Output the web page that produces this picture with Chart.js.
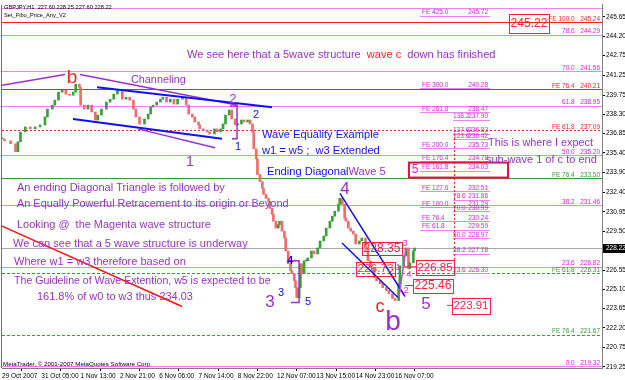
<!DOCTYPE html>
<html><head><meta charset="utf-8">
<script src="https://cdn.jsdelivr.net/npm/chart.js@4"></script>
<style>html,body{margin:0;padding:0;background:#fff;overflow:hidden}</style>
</head><body>
<canvas id="c" width="625" height="380"></canvas>
<script>
// ---------------- DATA ----------------
// hourly bar index (from 29 Oct 2007 00:00) and closing price
const barTimes = [0,2,7,11,13,15,19,23,27,31,35,37,41,43,46,49,52,55,58,60,63,64,67,70,73,76,78,81,85,88,91,94,98,101,104,107,109,112,116,119,121,123,126,129,131,134,137,140,143,147,150,152,155,157,160,161,164,167,169,173,175,178,180,182,185,187,190,192,195,197,200,202,204,205,207,208,210,212,213,215,217,218,220,221,223,225,226,228,230,231,233,235,236,238,239,240,242,243,244,246,248,249,252,254,257,259,262,264,267,269,271,274,275,277,279,280,282,284,286,288,291,293,296,298,300,303,305,308,310,313,315,318,320,323,324,327,329,331,332,335,336];
const closes = [236.45,236.30,236.08,235.48,236.23,236.97,237.35,237.20,237.35,237.50,
238.10,238.69,238.99,239.37,239.97,240.11,239.82,239.74,239.97,240.56,
240.34,238.99,238.69,238.99,238.47,237.87,238.24,238.69,239.22,239.44,
239.82,240.11,239.44,239.59,239.37,238.69,238.10,237.57,237.95,238.32,
238.84,238.99,239.22,239.44,239.59,239.22,239.44,239.07,239.44,239.59,
238.99,238.32,238.10,237.72,237.50,237.20,237.12,236.97,236.82,237.20,
236.97,237.20,237.57,238.24,238.62,237.95,237.50,237.57,237.87,237.72,
237.87,237.57,236.97,235.70,234.95,233.76,233.23,232.71,232.26,231.96,
231.74,231.21,230.76,230.24,229.72,229.99,230.24,229.49,228.97,228.00,
227.02,226.50,226.28,225.75,225.23,224.48,225.23,227.02,226.28,227.25,
227.25,227.47,228.00,227.77,228.22,228.75,229.12,229.72,230.24,230.62,
230.99,231.51,231.96,231.51,230.47,230.24,229.72,229.49,229.27,228.52,
228.75,228.97,228.22,227.25,226.73,225.98,225.75,225.53,225.23,225.01,
224.78,224.41,224.26,225.53,226.88,227.62,228.22,226.65,227.10,228.00,
228.22];

const xTickBars = [0,32,64,96,128,160,192,224,256,288,320];
const xTickLabels = ['29 Oct 2007','31 Oct 05:00','1 Nov 13:00','2 Nov 21:00','6 Nov 06:00','7 Nov 14:00','8 Nov 22:00','12 Nov 07:00','13 Nov 15:00','14 Nov 23:00','16 Nov 07:00'];
const yTicks = [245.65,244.20,242.75,241.25,239.75,238.30,236.85,235.40,233.90,232.40,230.95,229.50,226.55,225.10,223.65,222.20,220.75,219.25];
const lastPrice = 228.22;

// Fibonacci retracement levels (full width)
const retraceNames  = ['', '78.6','70.0','61.8','50.0','38.2','23.6','0.0'];
const retraceValues = [246.32,244.29,241.56,238.95,235.20,231.46,226.82,219.32];
// Fibo expansion levels (full width)
const feRedNames   = ['FE 100.0','FE 76.4','FE 61.8'];
const feRedValues  = [245.24,240.21,237.09];
const feGreenNames = ['FE 76.4','FE 61.8','FE 76.4'];
const feGreenValues= [233.50,226.31,221.67];
// short expansion labels
const feSubNames  = ['FE 425.0','FE 300.0','FE 261.8','FE 200.0','FE 176.4','FE 161.8','FE 127.6','FE 100.0','FE 76.4','FE 61.8'];
const feSubValues = [245.72,240.28,238.47,235.73,234.78,234.03,232.51,231.29,230.24,229.59];
// short retracement labels
const fibSubNames  = ['138.2','127.6','123.6','78.6','70.0','50.0','38.2','23.6'];
const fibSubValues = [237.90,236.83,236.42,231.86,230.99,228.97,227.78,226.30];
// price boxes
const boxValues = [245.22,228.35,226.73,226.85,225.46,223.91];

// ---------------- STYLE ----------------
const FONT = "'Liberation Sans', Arial, sans-serif";
const COL = {purple:'#9932cc', violet:'#ee82ee', magText:'#e020e0', red:'#ff2020', green:'#3a9a3a',
             blue:'#1010ff', gray:'#a8a8a8', up:'#3aa03a', down:'#f46a6a', boxRed:'#ff2040'};

const candles = barTimes.map((t,i)=>({x:t, y:[i?closes[i-1]:closes[i], closes[i]]}));
const candleColors = closes.map((c,i)=> (i && c < closes[i-1]) ? COL.down : COL.up);

// annotation anchors (bar index, price)
const trendLines = [
  {pts:[[0,240.49],[51.3,241.31]], c:COL.purple, w:1.5},
  {pts:[[63.5,241.31],[192.2,238.99]], c:COL.purple, w:1.5},
  {pts:[[77.4,240.34],[219.9,238.84]], c:COL.blue, w:2},
  {pts:[[57.8,237.95],[179.2,236.45]], c:COL.blue, w:2},
  {pts:[[110.7,237.20],[173.5,235.78]], c:COL.purple, w:1.5},
  {pts:[[185.7,238.92],[191.4,238.92],[191.4,236.45],[187.3,236.45]], c:COL.purple, w:1.5},
  {pts:[[0,229.87],[146.6,223.81]], c:'#ff1010', w:1.5},
  {pts:[[233.7,227.25],[241.9,227.25],[241.9,224.11],[235.3,224.11]], c:COL.purple, w:1.5},
  {pts:[[275.2,232.34],[328.2,224.56]], c:COL.blue, w:1.5},
  {pts:[[276.9,228.60],[322.5,224.48]], c:COL.blue, w:1.5},
  {pts:[[323.3,224.56],[329.0,228.22]], c:'#cc44ee', w:1.5},
  {pts:[[362.4,223.89],[366.4,223.89]], c:COL.boxRed, w:1},
  {pts:[[327.4,226.80],[337.1,226.80]], c:COL.boxRed, w:1},
  {pts:[[328.2,225.39],[334.7,225.39]], c:COL.boxRed, w:1}
];
const waveLabels = [
  ['b',57.0,241.09,19,COL.red],['2',188.1,239.44,13,COL.purple],['2',206.8,238.25,11,COL.blue],
  ['1',192.2,235.85,11,COL.blue],['1',153.1,234.66,14,COL.purple],['4',279.3,232.64,17,COL.purple],
  ['4',234.5,227.25,11,COL.blue,'bold'],['3',227.2,224.86,11,COL.blue],['3',218.2,224.11,17,COL.purple],
  ['5',249.2,224.18,11,COL.blue],['c',307.8,223.74,18,COL.red],['b',318.4,222.61,28,COL.purple],
  ['5',345.3,223.96,17,COL.purple],['3',328.2,228.52,9,COL.magText],['1',322.5,226.73,9,COL.magText],
  ['4',331.4,226.21,9,COL.magText],['2',329.0,225.01,9,COL.magText],['5',336.3,234.13,12,COL.magText]
];
const notes = [
  ['Channeling',105,240.86,55,COL.purple],
  ['Wave Equality Example',211.7,236.75,117,COL.blue],
  ['w1 = w5 ;  w3 Extended',211.7,235.55,118,COL.blue],
  ['This is where I expect',395.8,236.15,105,COL.purple],
  ['sub-wave 1 of c to end',394.1,234.88,111,COL.purple],
  ['An ending Diagonal Triangle is followed by',12.2,232.71,208,COL.purple],
  ['An Equally Powerful Retracement to its origin or Beyond',12.2,231.51,272,COL.purple],
  ['Looking @  the Magenta wave structure',12.2,229.94,194,COL.purple],
  ['We can see that a 5 wave structure is underway',9.0,228.52,235,COL.purple],
  ['Where w1 = w3 therefore based on',9.8,227.18,172,COL.purple],
  ['The Guideline of Wave Extention, w5 is expected to be',9.8,225.76,257,COL.purple],
  ['161.8% of w0 to w3 thus 234.03',28.5,224.56,156,COL.purple]
];
// box rectangles: [bar1, price1, bar2, price2]
const boxRects = [[412.9,245.87,445.4,244.45],[293.2,228.67,325.7,227.70],[288.3,227.18,320.0,226.13],
                  [337.1,227.33,368.1,226.21],[334.7,225.91,367.3,224.86],[366.4,224.48,397.4,223.29]];

function fitText(ctx, str, x, y, w, color, align, weight){
  weight = weight || 'normal';
  ctx.font = weight + ' 20px ' + FONT;
  const m = ctx.measureText(str).width;
  const size = 20 * w / m;
  ctx.font = weight + ' ' + size + 'px ' + FONT;
  ctx.fillStyle = color; ctx.textAlign = align || 'left'; ctx.textBaseline = 'middle';
  ctx.fillText(str, x, y);
  return size;
}

const overlay = {
  id:'overlay',
  beforeDatasetsDraw(chart){
    const {ctx, chartArea:a, scales:{x,y}} = chart;
    ctx.save();
    const hl = (p,color,dash)=>{ const py=Math.round(y.getPixelForValue(p))+0.5;
      ctx.beginPath(); ctx.setLineDash(dash||[]); ctx.strokeStyle=color; ctx.lineWidth=1;
      ctx.moveTo(a.left,py); ctx.lineTo(a.right,py); ctx.stroke(); };
    retraceValues.forEach(v=>hl(v,COL.violet));
    feRedValues.forEach((v,i)=>hl(v,COL.red,i===2?[2,2]:[]));
    feGreenValues.forEach((v,i)=>hl(v,COL.green,i===0?[]:[3,2]));
    hl(lastPrice,COL.gray);
    // short label underlines
    feSubValues.forEach(v=>{ const py=Math.round(y.getPixelForValue(v))+0.5; ctx.setLineDash([]);
      ctx.strokeStyle=COL.violet; ctx.beginPath(); ctx.moveTo(x.getPixelForValue(340.4),py); ctx.lineTo(x.getPixelForValue(397.4),py); ctx.stroke(); });
    fibSubValues.forEach(v=>{ const py=Math.round(y.getPixelForValue(v))+0.5;
      ctx.strokeStyle=COL.violet; ctx.beginPath(); ctx.moveTo(x.getPixelForValue(367.3),py); ctx.lineTo(x.getPixelForValue(397.4),py); ctx.stroke(); });
    // vertical dotted anchor
    ctx.setLineDash([2,2]); ctx.strokeStyle=COL.red; ctx.beginPath();
    const vx=Math.round(x.getPixelForValue(368.1))+0.5;
    ctx.moveTo(vx,y.getPixelForValue(237.12)); ctx.lineTo(vx,y.getPixelForValue(227.10)); ctx.stroke();
    ctx.restore();
  },
  afterDatasetsDraw(chart){
    const {ctx, chartArea:a, scales:{x,y}} = chart;
    const X=b=>x.getPixelForValue(b), Y=p=>y.getPixelForValue(p);
    ctx.save();
    // frame left
    ctx.strokeStyle='#707070'; ctx.lineWidth=1; ctx.beginPath(); ctx.moveTo(a.left-0.5,a.top); ctx.lineTo(a.left-0.5,a.bottom); ctx.stroke();
    // trend lines
    trendLines.forEach(t=>{ ctx.beginPath(); ctx.strokeStyle=t.c; ctx.lineWidth=t.w; ctx.setLineDash([]);
      t.pts.forEach((q,i)=>{ const px=X(q[0]), py=Y(q[1]); i?ctx.lineTo(px,py):ctx.moveTo(px,py); }); ctx.stroke(); });
    // right column labels
    ctx.font='6.5px '+FONT; ctx.textAlign='right'; ctx.textBaseline='bottom';
    const rx = X(487.0);
    retraceValues.forEach((v,i)=>{ if(!retraceNames[i]) return; ctx.fillStyle=COL.magText; ctx.fillText(retraceNames[i]+'   '+v.toFixed(2), rx, Y(v)); });
    feRedValues.forEach((v,i)=>{ ctx.fillStyle=COL.red; ctx.fillText(feRedNames[i]+'   '+v.toFixed(2), rx, Y(v)); });
    feGreenValues.forEach((v,i)=>{ ctx.fillStyle=COL.green; ctx.fillText(feGreenNames[i]+'   '+v.toFixed(2), rx, Y(v)); });
    // short labels
    ctx.fillStyle=COL.magText;
    feSubValues.forEach((v,i)=>{ ctx.textAlign='left'; ctx.fillText(feSubNames[i], X(342.0), Y(v)); ctx.textAlign='right'; ctx.fillText(v.toFixed(2), X(395.8), Y(v)); });
    fibSubValues.forEach((v,i)=>{ ctx.textAlign='left'; ctx.fillText(fibSubNames[i], X(367.3), Y(v)); ctx.textAlign='right'; ctx.fillText(v.toFixed(2), X(395.8), Y(v)); });
    // FE 161.8 box
    ctx.strokeStyle='#e8103a'; ctx.lineWidth=2;
    ctx.strokeRect(X(331.4), Y(234.66), X(412.1)-X(331.4), Y(233.53)-Y(234.66));
    // price boxes
    boxValues.forEach((v,i)=>{ const r=boxRects[i]; const x1=X(r[0]), y1=Y(r[1]), x2=X(r[2]), y2=Y(r[3]);
      ctx.strokeStyle=COL.boxRed; ctx.lineWidth=1; ctx.strokeRect(Math.round(x1)+0.5,Math.round(y1)+0.5,Math.round(x2-x1),Math.round(y2-y1));
      fitText(ctx, v.toFixed(2), (x1+x2)/2, (y1+y2)/2+0.5, (x2-x1)-3, COL.boxRed, 'center'); });
    // wave labels
    waveLabels.forEach(w=>{ ctx.font=(w[5]||'normal')+' '+w[3]+'px '+FONT; ctx.fillStyle=w[4]; ctx.textAlign='center'; ctx.textBaseline='middle'; ctx.fillText(w[0], X(w[1]), Y(w[2])); });
    // notes
    notes.forEach(n=>fitText(ctx, n[0], X(n[1]), Y(n[2]), n[3], n[4]));
    // headline (mixed colours)
    {
      const parts=[['We see here that a 5wave structure  ',COL.purple],['wave c',COL.red],['  down has finished',COL.purple]];
      const full=parts.map(p=>p[0]).join('');
      const size=fitText(ctx, '', 0, 0, 1, '#fff');
      ctx.font='20px '+FONT; const m=ctx.measureText(full).width; const s=20*309/m;
      ctx.font=s+'px '+FONT; ctx.textAlign='left'; ctx.textBaseline='middle';
      let cx=X(150.7); const cy=Y(242.81);
      parts.forEach(p=>{ ctx.fillStyle=p[1]; ctx.fillText(p[0],cx,cy); cx+=ctx.measureText(p[0]).width; });
    }
    {
      const parts=[['Ending Diagonal',COL.blue],['Wave 5',COL.purple]];
      ctx.font='20px '+FONT; const m=ctx.measureText('Ending DiagonalWave 5').width; const s=20*119/m;
      ctx.font=s+'px '+FONT; ctx.textAlign='left'; ctx.textBaseline='middle';
      let cx=X(215.8); const cy=Y(233.98);
      parts.forEach(p=>{ ctx.fillStyle=p[1]; ctx.fillText(p[0],cx,cy); cx+=ctx.measureText(p[0]).width; });
    }
    // chart header / footer texts
    fitText(ctx, 'GBPJPY,H1  227.60 228.25 227.60 228.22', a.left+2, a.top+3, 108, '#000');
    fitText(ctx, 'Set_Fibo_Price_Any_V2', a.left+2, a.top+11, 62, '#000');
    fitText(ctx, 'MetaTrader, \u00a9 2001-2007 MetaQuotes Software Corp.', a.left+1, a.bottom-4, 149, '#000');
    ctx.restore();
  },
  afterDraw(chart){
    const {ctx, chartArea:a, scales:{y}} = chart;
    ctx.save();
    const py=Y0=y.getPixelForValue(lastPrice);
    ctx.fillStyle='#000'; ctx.fillRect(a.right+1, Math.round(py)-4, 23, 9);
    ctx.fillStyle='#fff'; ctx.font='6.5px '+FONT; ctx.textAlign='left'; ctx.textBaseline='middle';
    ctx.fillText(lastPrice.toFixed(2), a.right+4, Math.round(py)+0.5);
    ctx.restore();
  }
};

Chart.defaults.font.family = FONT;
new Chart(document.getElementById('c'), {
  type:'bar',
  data:{ datasets:[{ data:candles, backgroundColor:candleColors, borderWidth:0, barThickness:2, minBarLength:1 }] },
  options:{
    responsive:false, animation:false, devicePixelRatio:1,
    layout:{ padding:{left:2, top:2, right:0, bottom:0} },
    plugins:{ legend:{display:false}, tooltip:{enabled:false} },
    scales:{
      x:{ type:'linear', min:0, max:488.6, position:'bottom', offset:false,
          afterBuildTicks: ax=>{ ax.ticks = xTickBars.map(v=>({value:v})); },
          afterFit: ax=>{ ax.height = 12; },
          ticks:{ callback:(v,i)=>xTickLabels[i], font:{size:6.5}, color:'#000', align:'start', maxRotation:0, minRotation:0, autoSkip:false, padding:1 },
          grid:{ drawOnChartArea:false, tickLength:3, color:'#000' },
          border:{ display:true, color:'#808080' } },
      y:{ position:'right', min:219.17, max:246.55,
          afterBuildTicks: ax=>{ ax.ticks = yTicks.map(v=>({value:v})); },
          afterFit: ax=>{ ax.width = 23; },
          ticks:{ callback:v=>Number(v).toFixed(2), font:{size:6.5}, color:'#000', padding:1, autoSkip:false },
          grid:{ drawOnChartArea:false, tickLength:3, color:'#000' },
          border:{ display:true, color:'#808080' } }
    }
  },
  plugins:[overlay]
});
</script>
</body></html>
